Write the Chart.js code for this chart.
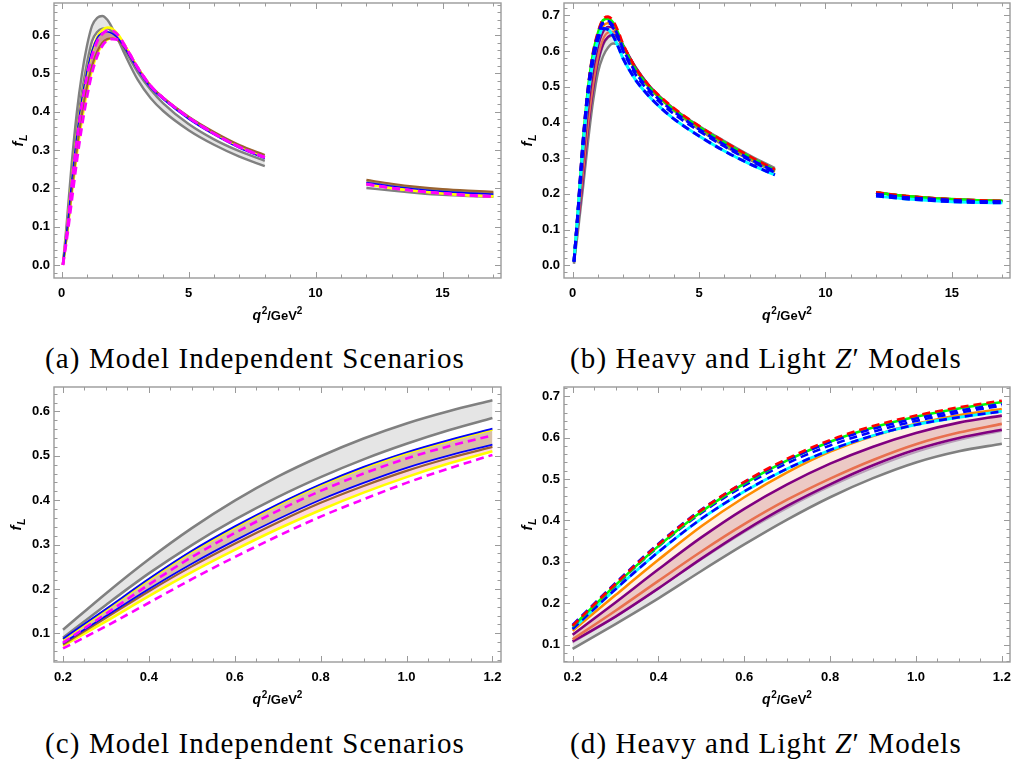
<!DOCTYPE html>
<html>
<head>
<meta charset="utf-8">
<script src="https://cdn.jsdelivr.net/npm/chart.js@4.4.1/dist/chart.umd.min.js"></script>
<style>
  body { margin: 0; background: #fff; width: 1017px; height: 767px; position: relative; overflow: hidden; }
  canvas { position: absolute; }
  .cap { position: absolute; width: 510px; text-align: center; font-family: "Liberation Serif", serif;
         font-size: 29px; line-height: 29px; letter-spacing: 1.1px; color: #000; white-space: nowrap; }
</style>
</head>
<body>
<canvas id="pa" width="508" height="330" style="left:0;top:0"></canvas>
<canvas id="pb" width="509" height="330" style="left:508px;top:0"></canvas>
<canvas id="pc" width="508" height="330" style="left:0;top:384px"></canvas>
<canvas id="pd" width="509" height="330" style="left:508px;top:384px"></canvas>
<div class="cap" style="left:0;top:344px">(a) Model Independent Scenarios</div>
<div class="cap" style="left:511px;top:344px">(b) Heavy and Light <i>Z</i>′ Models</div>
<div class="cap" style="left:0;top:729px">(c) Model Independent Scenarios</div>
<div class="cap" style="left:511px;top:729px">(d) Heavy and Light <i>Z</i>′ Models</div>
<script>
// q^2 grids (GeV^2): low bin, high bin, and the zoomed low-q^2 window
var qLow = [0.05, 0.2, 0.4, 0.6, 0.8, 1.0, 1.2, 1.4, 1.6, 1.8, 2.0, 2.25, 2.5, 3.0, 3.5, 4.0, 5.0, 6.0, 7.0, 8.0];
var qHigh = [12, 13, 14, 15, 16, 17];
var qZoom = [0.2, 0.3, 0.4, 0.5, 0.6, 0.7, 0.8, 0.9, 1.0, 1.1, 1.2];

// tick labels
var fullXTicks = [0, 5, 10, 15];
var zoomXTicks = [0.2, 0.4, 0.6, 0.8, 1.0, 1.2];
var aYTicks = [0.0, 0.1, 0.2, 0.3, 0.4, 0.5, 0.6];
var bYTicks = [0.0, 0.1, 0.2, 0.3, 0.4, 0.5, 0.6, 0.7];
var cYTicks = [0.1, 0.2, 0.3, 0.4, 0.5, 0.6];
var dYTicks = [0.1, 0.2, 0.3, 0.4, 0.5, 0.6, 0.7];

// (a) model independent scenarios, f_L on qLow
var aSmA  = [0.0, 0.108, 0.267, 0.399, 0.499, 0.573, 0.625, 0.645, 0.650, 0.640, 0.618, 0.584, 0.548, 0.483, 0.436, 0.402, 0.352, 0.314, 0.283, 0.258];
var aSmB  = [0.0, 0.090, 0.235, 0.356, 0.452, 0.527, 0.585, 0.608, 0.617, 0.618, 0.608, 0.588, 0.560, 0.503, 0.458, 0.422, 0.368, 0.328, 0.297, 0.272];
var aYelU = [0.0, 0.086, 0.221, 0.339, 0.434, 0.506, 0.559, 0.595, 0.613, 0.620, 0.617, 0.600, 0.573, 0.515, 0.468, 0.436, 0.385, 0.343, 0.308, 0.281];
var aMagU = [0.0, 0.079, 0.210, 0.326, 0.421, 0.494, 0.546, 0.584, 0.603, 0.611, 0.611, 0.598, 0.572, 0.515, 0.468, 0.436, 0.385, 0.343, 0.308, 0.281];
var aBluU = [0.0, 0.088, 0.223, 0.341, 0.436, 0.508, 0.561, 0.593, 0.606, 0.609, 0.604, 0.590, 0.565, 0.510, 0.463, 0.432, 0.381, 0.340, 0.305, 0.278];
var aBrnL = [0.0, 0.075, 0.195, 0.302, 0.394, 0.466, 0.520, 0.557, 0.580, 0.590, 0.592, 0.585, 0.565, 0.513, 0.468, 0.437, 0.387, 0.347, 0.313, 0.287];
var aYelL = [0.0, 0.072, 0.184, 0.288, 0.378, 0.452, 0.510, 0.550, 0.575, 0.588, 0.592, 0.588, 0.570, 0.515, 0.468, 0.436, 0.385, 0.343, 0.308, 0.281];
var aMagL = [0.0, 0.066, 0.169, 0.272, 0.363, 0.439, 0.502, 0.545, 0.572, 0.586, 0.590, 0.587, 0.570, 0.515, 0.468, 0.436, 0.385, 0.343, 0.308, 0.281];
// (a) on qHigh
var aHiSmA = [0.201, 0.194, 0.188, 0.183, 0.180, 0.178];
var aHiSmB = [0.216, 0.207, 0.199, 0.193, 0.189, 0.186];
var aHiBrn = [0.222, 0.212, 0.204, 0.198, 0.194, 0.191];
var aHiBlu = [0.215, 0.206, 0.198, 0.192, 0.188, 0.185];
var aHiYM  = [0.211, 0.201, 0.193, 0.187, 0.182, 0.179];

// (b) heavy and light Z' models, f_L on qLow
var bRed    = [0.01, 0.146, 0.342, 0.493, 0.594, 0.653, 0.689, 0.696, 0.684, 0.655, 0.618, 0.583, 0.551, 0.505, 0.470, 0.440, 0.390, 0.346, 0.305, 0.268];
var bGreen  = [0.01, 0.144, 0.338, 0.489, 0.590, 0.650, 0.686, 0.691, 0.679, 0.650, 0.613, 0.578, 0.547, 0.501, 0.466, 0.436, 0.387, 0.343, 0.303, 0.266];
var bBlue1  = [0.01, 0.148, 0.344, 0.492, 0.589, 0.646, 0.681, 0.684, 0.671, 0.642, 0.605, 0.570, 0.539, 0.494, 0.459, 0.430, 0.381, 0.338, 0.298, 0.263];
var bBlue2  = [0.01, 0.144, 0.337, 0.484, 0.581, 0.640, 0.677, 0.679, 0.665, 0.636, 0.599, 0.564, 0.533, 0.488, 0.453, 0.424, 0.376, 0.333, 0.294, 0.260];
var bCyan   = [0.01, 0.138, 0.324, 0.470, 0.570, 0.631, 0.663, 0.660, 0.642, 0.612, 0.578, 0.546, 0.518, 0.475, 0.440, 0.410, 0.362, 0.320, 0.284, 0.253];
var bOrange = [0.01, 0.134, 0.305, 0.456, 0.566, 0.633, 0.669, 0.678, 0.668, 0.644, 0.612, 0.578, 0.547, 0.500, 0.464, 0.434, 0.384, 0.340, 0.300, 0.264];
var bPurU   = [0.01, 0.124, 0.282, 0.428, 0.537, 0.611, 0.653, 0.668, 0.664, 0.645, 0.617, 0.584, 0.553, 0.505, 0.468, 0.437, 0.386, 0.342, 0.302, 0.265];
var bSalmon = [0.01, 0.113, 0.254, 0.391, 0.501, 0.584, 0.633, 0.652, 0.654, 0.640, 0.615, 0.583, 0.553, 0.505, 0.469, 0.438, 0.387, 0.343, 0.303, 0.266];
var bPurL   = [0.01, 0.108, 0.236, 0.375, 0.487, 0.571, 0.619, 0.640, 0.645, 0.634, 0.611, 0.581, 0.552, 0.505, 0.469, 0.439, 0.388, 0.344, 0.304, 0.267];
var bSmU    = [0.005, 0.105, 0.236, 0.372, 0.482, 0.565, 0.616, 0.638, 0.644, 0.634, 0.612, 0.583, 0.554, 0.505, 0.466, 0.434, 0.380, 0.334, 0.295, 0.262];
var bSmL    = [0.005, 0.090, 0.212, 0.342, 0.456, 0.540, 0.585, 0.610, 0.621, 0.619, 0.608, 0.580, 0.550, 0.500, 0.465, 0.437, 0.390, 0.348, 0.308, 0.272];
// (b) on qHigh
var bHiTop = [0.204, 0.195, 0.189, 0.185, 0.182, 0.180];
var bHiMid = [0.199, 0.191, 0.186, 0.182, 0.179, 0.178];
var bHiLow = [0.194, 0.187, 0.182, 0.178, 0.176, 0.175];

// (c) model independent scenarios on qZoom
var cSmU  = [0.108, 0.190, 0.267, 0.337, 0.399, 0.453, 0.499, 0.539, 0.573, 0.601, 0.625];
var cSmL  = [0.090, 0.164, 0.235, 0.299, 0.356, 0.407, 0.452, 0.492, 0.527, 0.558, 0.585];
var cBluU = [0.088, 0.155, 0.223, 0.286, 0.341, 0.391, 0.436, 0.475, 0.508, 0.536, 0.561];
var cYelU = [0.086, 0.153, 0.221, 0.284, 0.339, 0.389, 0.434, 0.473, 0.506, 0.534, 0.559];
var cMagU = [0.079, 0.144, 0.210, 0.272, 0.326, 0.376, 0.421, 0.460, 0.494, 0.522, 0.546];
var cBluL = [0.078, 0.139, 0.200, 0.257, 0.309, 0.357, 0.401, 0.439, 0.473, 0.501, 0.525];
var cBrnL = [0.075, 0.135, 0.195, 0.251, 0.302, 0.350, 0.394, 0.432, 0.466, 0.495, 0.520];
var cYelL = [0.072, 0.127, 0.184, 0.238, 0.288, 0.335, 0.378, 0.417, 0.452, 0.483, 0.510];
var cMagL = [0.066, 0.116, 0.169, 0.222, 0.272, 0.319, 0.363, 0.402, 0.439, 0.472, 0.502];

// (d) heavy and light Z' models on qZoom
var dRed    = [0.146, 0.247, 0.342, 0.425, 0.493, 0.549, 0.594, 0.628, 0.653, 0.673, 0.689];
var dGreen  = [0.144, 0.244, 0.338, 0.421, 0.489, 0.545, 0.590, 0.624, 0.650, 0.670, 0.686];
var dBlue1  = [0.148, 0.249, 0.344, 0.426, 0.492, 0.546, 0.589, 0.621, 0.646, 0.665, 0.681];
var dBlue2  = [0.144, 0.243, 0.337, 0.418, 0.484, 0.538, 0.581, 0.614, 0.640, 0.660, 0.677];
var dCyan   = [0.138, 0.234, 0.324, 0.404, 0.470, 0.525, 0.570, 0.605, 0.631, 0.649, 0.663];
var dOrange = [0.134, 0.220, 0.305, 0.386, 0.456, 0.516, 0.566, 0.604, 0.633, 0.654, 0.669];
var dPurU   = [0.124, 0.202, 0.282, 0.359, 0.428, 0.487, 0.537, 0.578, 0.611, 0.636, 0.653];
var dSalmon = [0.113, 0.182, 0.254, 0.325, 0.391, 0.450, 0.501, 0.546, 0.584, 0.612, 0.633];
var dPurL   = [0.108, 0.168, 0.236, 0.308, 0.375, 0.435, 0.487, 0.533, 0.571, 0.599, 0.619];
var dSmU    = [0.105, 0.167, 0.236, 0.306, 0.372, 0.430, 0.482, 0.527, 0.565, 0.594, 0.616];
var dSmL    = [0.090, 0.150, 0.212, 0.278, 0.342, 0.402, 0.456, 0.502, 0.540, 0.567, 0.585];

var GRAY = "#808080", YEL = "#ffff00", MAG = "#ff00ff", BLUE = "#0000ff", BROWN = "#9a6330";
var PURPLE = "#800080", SALMON = "#e8704f", ORANGE = "#ff8c00", CYAN = "#00ffff", GREEN = "#00ff00", RED = "#ff0000";
var DASH = [8, 5];

function pts(xs, ys) {
  return xs.map(function (x, i) { return { x: x, y: ys[i] }; });
}
// low and high q^2 bins in one line, broken between them
function bins(lo, hi) {
  return pts(qLow, lo).concat([{ x: 10, y: null }], pts(qHigh, hi));
}

function buildDatasets(specs) {
  var index = {};
  specs.forEach(function (s, i) { index[s.key] = i; });
  return specs.map(function (s, i) {
    return {
      data: s.data,
      borderColor: s.color,
      borderWidth: s.width,
      borderDash: s.dash || [],
      backgroundColor: s.bg || "transparent",
      fill: s.fillTo ? { target: index[s.fillTo] } : false,
      order: specs.length - i // later entries are painted on top
    };
  });
}

function tickValues(min, max, step) {
  var out = [];
  for (var v = Math.ceil(min / step - 1e-9) * step; v <= max + 1e-9; v += step) out.push(v);
  return out;
}

function drawPieces(ctx, pieces, x, y) {
  pieces.forEach(function (p) {
    ctx.font = p.font;
    ctx.fillText(p.t, x, y + (p.dy || 0));
    x += ctx.measureText(p.t).width + (p.gap || 0);
  });
}
function piecesWidth(ctx, pieces) {
  var w = 0;
  pieces.forEach(function (p) { ctx.font = p.font; w += ctx.measureText(p.t).width + (p.gap || 0); });
  return w;
}

var SANS = '"Liberation Sans", Arial, sans-serif';
var xTitle = [
  { t: "q", font: "italic bold 14px " + SANS, gap: 0.5 },
  { t: "2", font: "bold 10px " + SANS, dy: -6 },
  { t: "/GeV", font: "bold 13px " + SANS },
  { t: "2", font: "bold 10px " + SANS, dy: -6 }
];
var yTitle = [
  { t: "f", font: "italic bold 15px " + SANS, gap: 0.5 },
  { t: "L", font: "italic bold 11px " + SANS, dy: 4 }
];

// Mathematica-style frame: box, inward major/minor ticks on all sides, axis titles
var framePlugin = {
  id: "frame",
  afterDatasetsDraw: function (chart, args, o) {
    var ctx = chart.ctx, a = chart.chartArea, sx = chart.scales.x, sy = chart.scales.y;
    ctx.save();
    ctx.strokeStyle = "#9a9a9a";
    ctx.lineWidth = 1.4;
    ctx.strokeRect(a.left, a.top, a.right - a.left, a.bottom - a.top);
    ctx.lineWidth = 1;
    ctx.beginPath();
    function isMajor(list, v) { return list.some(function (m) { return Math.abs(m - v) < 1e-6; }); }
    tickValues(sx.min, sx.max, o.xMinor).forEach(function (v) {
      var px = Math.round(sx.getPixelForValue(v)) + 0.5, len = isMajor(o.xMajor, v) ? 6 : 3.5;
      ctx.moveTo(px, a.bottom); ctx.lineTo(px, a.bottom - len);
      ctx.moveTo(px, a.top); ctx.lineTo(px, a.top + len);
    });
    tickValues(sy.min, sy.max, o.yMinor).forEach(function (v) {
      var py = Math.round(sy.getPixelForValue(v)) + 0.5, len = isMajor(o.yMajor, v) ? 6 : 3.5;
      ctx.moveTo(a.left, py); ctx.lineTo(a.left + len, py);
      ctx.moveTo(a.right, py); ctx.lineTo(a.right - len, py);
    });
    ctx.stroke();

    ctx.fillStyle = "#000";
    ctx.textBaseline = "alphabetic";
    ctx.textAlign = "left";
    var w = piecesWidth(ctx, xTitle);
    drawPieces(ctx, xTitle, (a.left + a.right) / 2 - w / 2, a.bottom + 42);
    ctx.translate(o.yTitleX, (a.top + a.bottom) / 2);
    ctx.rotate(-Math.PI / 2);
    w = piecesWidth(ctx, yTitle);
    drawPieces(ctx, yTitle, -w / 2, 4);
    ctx.restore();
  }
};

function makeChart(id, p) {
  var tickFont = { family: SANS, weight: "bold", size: 13 };
  return new Chart(document.getElementById(id), {
    type: "line",
    data: { datasets: buildDatasets(p.specs) },
    options: {
      responsive: false,
      animation: false,
      devicePixelRatio: 1,
      layout: { padding: { top: 3, right: 7, left: 0, bottom: 0 } },
      elements: {
        point: { radius: 0 },
        line: { cubicInterpolationMode: "monotone", borderCapStyle: "butt", borderJoinStyle: "round" }
      },
      plugins: {
        legend: { display: false },
        tooltip: { enabled: false },
        filler: { drawTime: "beforeDatasetsDraw" },
        frame: { xMajor: p.xTicks, yMajor: p.yTicks, xMinor: p.xMinor, yMinor: 0.02, yTitleX: p.yTitleX }
      },
      scales: {
        x: {
          type: "linear", min: p.xRange[0], max: p.xRange[1],
          grid: { display: false, drawTicks: false }, border: { display: false },
          ticks: { font: tickFont, color: "#000", padding: 8, maxRotation: 0,
                   callback: function (v) { return v.toFixed(p.xDec); } },
          afterBuildTicks: function (s) { s.ticks = p.xTicks.map(function (v) { return { value: v }; }); },
          afterFit: function (s) { s.height = 52; s.paddingLeft = 0; s.paddingRight = 0; }
        },
        y: {
          type: "linear", min: p.yRange[0], max: p.yRange[1],
          grid: { display: false, drawTicks: false }, border: { display: false },
          ticks: { font: tickFont, color: "#000", padding: 4,
                   callback: function (v) { return v.toFixed(1); } },
          afterBuildTicks: function (s) { s.ticks = p.yTicks.map(function (v) { return { value: v }; }); },
          afterFit: function (s) { s.width = p.yWidth; s.paddingTop = 0; s.paddingBottom = 0; }
        }
      }
    },
    plugins: [framePlugin]
  });
}

var PINK_BAND = "rgba(255,165,190,0.45)", KHAKI_BAND = "rgba(140,150,60,0.35)";

// (a)
makeChart("pa", {
  xRange: [-0.30, 17.30], yRange: [-0.034, 0.684], xTicks: fullXTicks, yTicks: aYTicks,
  xMinor: 1, xDec: 0, yWidth: 54, yTitleX: 19,
  specs: [
    { key: "smB", data: bins(aSmB, aHiSmB), color: GRAY, width: 2.4 },
    { key: "smA", data: bins(aSmA, aHiSmA), color: GRAY, width: 2.4, fillTo: "smB", bg: "rgba(170,170,170,0.3)" },
    { key: "yelL", data: bins(aYelL, aHiYM), color: YEL, width: 2.4 },
    { key: "yelU", data: bins(aYelU, aHiYM), color: YEL, width: 2.4, fillTo: "yelL", bg: PINK_BAND },
    { key: "brnL", data: bins(aBrnL, aHiBrn), color: BROWN, width: 2.2 },
    { key: "bluU", data: bins(aBluU, aHiBlu), color: BLUE, width: 1.4, fillTo: "brnL", bg: "rgba(140,90,50,0.45)" },
    { key: "magL", data: bins(aMagL, aHiYM), color: MAG, width: 2.8, dash: DASH },
    { key: "magU", data: bins(aMagU, aHiYM), color: MAG, width: 2.8, dash: DASH }
  ]
});

// (b)
makeChart("pb", {
  xRange: [-0.344, 17.30], yRange: [-0.0356, 0.7345], xTicks: fullXTicks, yTicks: bYTicks,
  xMinor: 1, xDec: 0, yWidth: 56, yTitleX: 20,
  specs: [
    { key: "smL", data: bins(bSmL, bHiTop), color: GRAY, width: 2.4 },
    { key: "smU", data: bins(bSmU, bHiTop), color: GRAY, width: 2.4, fillTo: "smL", bg: "rgba(170,170,170,0.3)" },
    { key: "purL", data: bins(bPurL, bHiTop), color: PURPLE, width: 2.2 },
    { key: "salmon", data: bins(bSalmon, bHiTop), color: SALMON, width: 2.2 },
    { key: "purU", data: bins(bPurU, bHiTop), color: PURPLE, width: 2.2, fillTo: "purL", bg: "rgba(200,100,90,0.35)" },
    { key: "orange", data: bins(bOrange, bHiTop), color: ORANGE, width: 2.2, fillTo: "purU", bg: "rgba(255,200,150,0.25)" },
    { key: "green", data: bins(bGreen, bHiTop), color: GREEN, width: 2.8 },
    { key: "red", data: bins(bRed, bHiTop), color: RED, width: 2.8, dash: DASH },
    { key: "cyan", data: bins(bCyan, bHiLow), color: CYAN, width: 3 },
    { key: "blue3", data: bins(bCyan, bHiLow), color: BLUE, width: 3, dash: DASH },
    { key: "blue2", data: bins(bBlue2, bHiMid), color: BLUE, width: 2.8, dash: DASH },
    { key: "blue1", data: bins(bBlue1, bHiMid), color: BLUE, width: 2.8, dash: DASH }
  ]
});

// (c)
makeChart("pc", {
  xRange: [0.179, 1.220], yRange: [0.0355, 0.655], xTicks: zoomXTicks, yTicks: cYTicks,
  xMinor: 0.05, xDec: 1, yWidth: 54, yTitleX: 17,
  specs: [
    { key: "smL", data: pts(qZoom, cSmL), color: GRAY, width: 2.6 },
    { key: "smU", data: pts(qZoom, cSmU), color: GRAY, width: 2.6, fillTo: "smL", bg: "rgba(170,170,170,0.3)" },
    { key: "yelL", data: pts(qZoom, cYelL), color: YEL, width: 2.6 },
    { key: "yelU", data: pts(qZoom, cYelU), color: YEL, width: 2.6, fillTo: "yelL", bg: PINK_BAND },
    { key: "brnL", data: pts(qZoom, cBrnL), color: BROWN, width: 2.2 },
    { key: "bluL", data: pts(qZoom, cBluL), color: BLUE, width: 1.8, fillTo: "yelU", bg: KHAKI_BAND },
    { key: "bluU", data: pts(qZoom, cBluU), color: BLUE, width: 1.8 },
    { key: "magL", data: pts(qZoom, cMagL), color: MAG, width: 2.6, dash: DASH },
    { key: "magU", data: pts(qZoom, cMagU), color: MAG, width: 2.6, dash: DASH }
  ]
});

// (d)
makeChart("pd", {
  xRange: [0.180, 1.219], yRange: [0.0584, 0.722], xTicks: zoomXTicks, yTicks: dYTicks,
  xMinor: 0.05, xDec: 1, yWidth: 56, yTitleX: 20,
  specs: [
    { key: "smL", data: pts(qZoom, dSmL), color: GRAY, width: 2.6 },
    { key: "smU", data: pts(qZoom, dSmU), color: "#b8a0b8", width: 2, fillTo: "smL", bg: "rgba(170,170,170,0.3)" },
    { key: "purL", data: pts(qZoom, dPurL), color: PURPLE, width: 2.6 },
    { key: "salmon", data: pts(qZoom, dSalmon), color: SALMON, width: 2.6 },
    { key: "purU", data: pts(qZoom, dPurU), color: PURPLE, width: 2.6, fillTo: "purL", bg: "rgba(200,100,90,0.35)" },
    { key: "orange", data: pts(qZoom, dOrange), color: ORANGE, width: 2.6, fillTo: "purU", bg: "rgba(255,200,150,0.25)" },
    { key: "cyan", data: pts(qZoom, dCyan), color: CYAN, width: 2.8 },
    { key: "blue3", data: pts(qZoom, dCyan), color: BLUE, width: 2.6, dash: DASH },
    { key: "blue2", data: pts(qZoom, dBlue2), color: BLUE, width: 2.6, dash: DASH },
    { key: "green", data: pts(qZoom, dGreen), color: GREEN, width: 2.6 },
    { key: "blue1", data: pts(qZoom, dBlue1), color: BLUE, width: 2.6, dash: DASH },
    { key: "red", data: pts(qZoom, dRed), color: RED, width: 2.6, dash: DASH }
  ]
});
</script>
</body>
</html>
